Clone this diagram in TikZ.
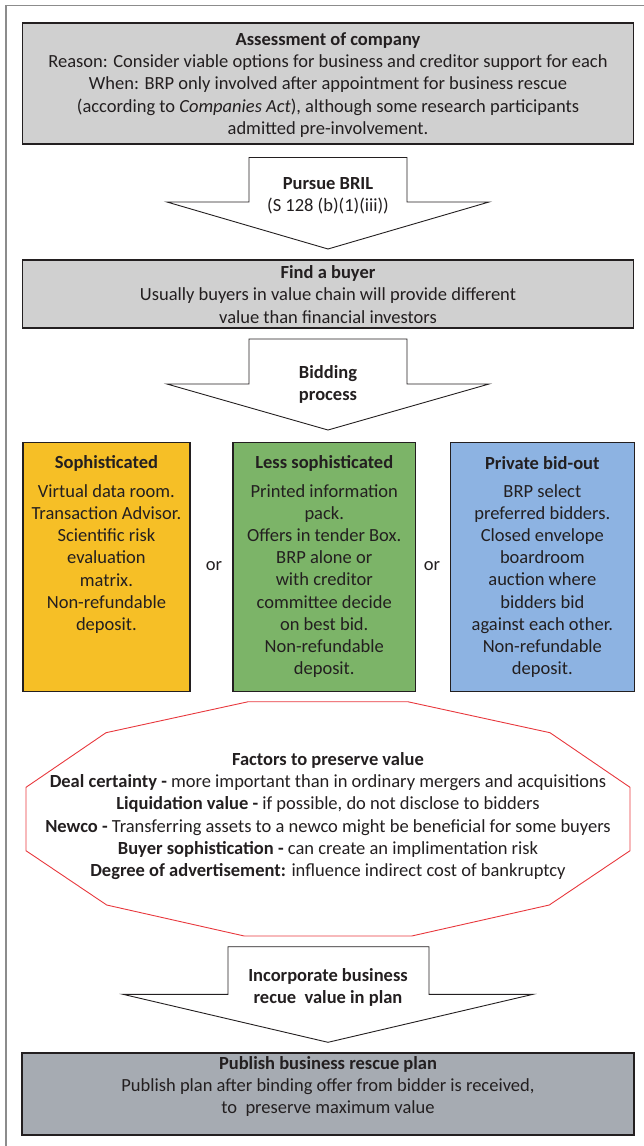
\documentclass[tikz,border=0pt]{standalone}
\usepackage{fontspec}
\setmainfont{Carlito}
\usepackage{xcolor}
\usetikzlibrary{positioning, calc}

\definecolor{boxgrey}{RGB}{208,208,208}
\definecolor{plangrey}{RGB}{166,171,178}
\definecolor{sophyellow}{RGB}{246,191,38}
\definecolor{lessgreen}{RGB}{124,180,104}
\definecolor{bidblue}{RGB}{141,179,226}
\definecolor{octred}{RGB}{232,56,61}
\definecolor{inkdark}{RGB}{35,31,32}
\definecolor{framegrey}{RGB}{140,140,140}

\begin{document}
\begin{tikzpicture}[x=1pt, y=-1pt,
        % text inside every box and arrow
        txt/.style={
            font=\fontsize{18.5}{22.2}\selectfont,
            text=inkdark,
            align=center,
            inner sep=0pt
        },
        % full width grey stage boxes
        stage/.style={
            draw=inkdark,
            line width=1.2pt,
            minimum width=611.5pt,
            inner sep=0pt
        },
        % coloured option boxes
        option/.style={
            draw=inkdark,
            line width=1.2pt,
            anchor=north west,
            minimum height=249.3pt,
            inner sep=0pt
        },
        % white block arrows
        blockarrow/.style={
            draw=inkdark,
            line width=0.9pt,
            fill=white
        }
    ]

    \useasboundingbox (0,0) rectangle (643,1146);

    % outer frame (runs off at right and bottom)
    \draw[framegrey, line width=1.4pt] (6,1150) -- (6,5.5) -- (650,5.5);

    % ==========================================
    % ASSESSMENT
    % ==========================================
    \node[stage, fill=boxgrey, minimum height=121pt] (assess) at (328,83.5) {};
    \node[txt] (assesstxt) at (328,85) {\textbf{Assessment of company}\\
        Reason: Consider viable options for business and creditor support for each\\
        When: BRP only involved after appointment for business rescue\\
        (according to \textit{Companies Act}), although some research participants\\
        admitted pre-involvement.};

    % Arrow: pursue BRIL
    \draw[blockarrow] (249,157.5) -- (407,157.5) -- (407,202) -- (489,202)
        -- (328,249) -- (167,202) -- (249,202) -- cycle;
    \node[txt] (pursue) at (328,195.5) {\textbf{Pursue BRIL}\\(S 128 (b)(1)(iii))};

    % ==========================================
    % FIND A BUYER
    % ==========================================
    \node[stage, fill=boxgrey, minimum height=68pt] (buyer) at (328,294) {};
    \node[txt] (buyertxt) at (328,294.5) {\textbf{Find a buyer}\\
        Usually buyers in value chain will provide different\\
        value than financial investors};

    % Arrow: bidding process
    \draw[blockarrow] (249,339) -- (407,339) -- (407,384) -- (489,384)
        -- (328,430) -- (167,384) -- (249,384) -- cycle;
    \node[txt] (bidding) at (328,384.5) {\textbf{Bidding}\\\textbf{process}};

    % ==========================================
    % BIDDING OPTIONS
    % ==========================================
    \node[option, fill=sophyellow, minimum width=167pt] (soph) at (22.3,441.7) {};
    \node[option, fill=lessgreen, minimum width=182.7pt] (lesssoph) at (232.3,441.7) {};
    \node[option, fill=bidblue, minimum width=183.5pt] (bidout) at (450,441.7) {};

    \node[txt, font=\fontsize{18.5}{22.2}\selectfont\bfseries] (sophtitle)
        at ($(soph.north)+(0,21.8)$) {Sophisticated};
    \node[txt] (sophtxt) at ($(soph.north)+(0,117.3)$) {Virtual data room.\\
        Transaction Advisor.\\Scientific risk\\evaluation\\matrix.\\
        Non-refundable\\deposit.};

    \node[txt, font=\fontsize{18.5}{22.2}\selectfont\bfseries] (lesstitle)
        at ($(lesssoph.north)+(0,21.8)$) {Less sophisticated};
    \node[txt] (lesstxt) at ($(lesssoph.north)+(0,139.3)$) {Printed information\\
        pack.\\Offers in tender Box.\\BRP alone or\\with creditor\\
        committee decide\\on best bid.\\Non-refundable\\deposit.};

    \node[txt, font=\fontsize{18.5}{22.2}\selectfont\bfseries] (bidtitle)
        at ($(bidout.north)+(0,21.8)$) {Private bid-out};
    \node[txt] (bidtxt) at ($(bidout.north)+(0,139.3)$) {BRP select\\
        preferred bidders.\\Closed envelope\\boardroom\\auction where\\
        bidders bid\\against each other.\\Non-refundable\\deposit.};

    \node[txt] (orA) at (214,565.7) {or};
    \node[txt] (orB) at (432,565.7) {or};

    % ==========================================
    % FACTORS TO PRESERVE VALUE
    % ==========================================
    \draw[octred, line width=0.9pt, line join=miter]
        (248.3,701.7) -- (407.7,701.7) -- (550,732.7) -- (630,787.3)
        -- (630,850.7) -- (549.3,905) -- (411.7,936) -- (244.3,936)
        -- (106.7,905) -- (26,850.7) -- (26,787.3) -- (106,732.7) -- cycle;
    \node[txt] (factors) at (328,816) {\textbf{Factors to preserve value}\\
        \textbf{Deal certainty -} more important than in ordinary mergers and acquisitions\\
        \textbf{Liquidation value -} if possible, do not disclose to bidders\\
        \textbf{Newco -} Transferring assets to a newco might be beneficial for some buyers\\
        \textbf{Buyer sophistication -} can create an implimentation risk\\
        \textbf{Degree of advertisement:} influence indirect cost of bankruptcy};

    % Arrow: incorporate value
    \draw[blockarrow] (228,946.7) -- (429,946.7) -- (429,994.3) -- (533,994.3)
        -- (328,1042.3) -- (123,994.3) -- (228,994.3) -- cycle;
    \node[txt] (incorp) at (328,987.5) {\textbf{Incorporate business}\\
        \textbf{recue\ \ value in plan}};

    % ==========================================
    % PUBLISH PLAN
    % ==========================================
    \node[stage, fill=plangrey, line width=1.8pt, minimum height=82pt] (publish) at (328,1094) {};
    \node[txt] (publishtxt) at (328,1086.5) {\textbf{Publish business rescue plan}\\
        Publish plan after binding offer from bidder is received,\\
        to\ \ preserve maximum value};

\end{tikzpicture}
\end{document}
